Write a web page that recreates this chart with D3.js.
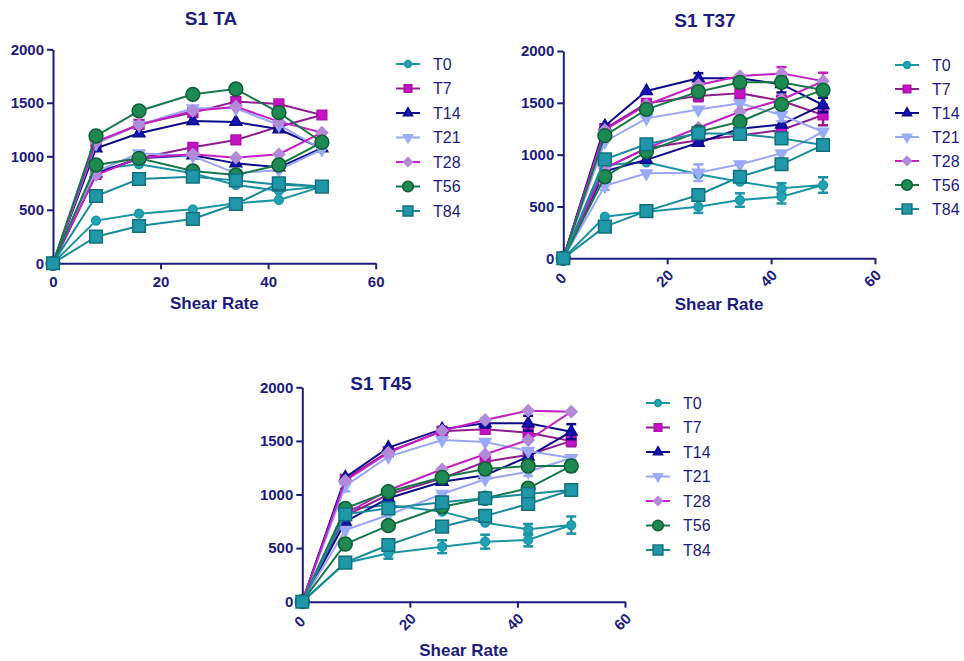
<!DOCTYPE html>
<html>
<head>
<meta charset="utf-8">
<script src="https://cdn.jsdelivr.net/npm/d3@7"></script>
<style>
  body { margin: 0; background: #fff; }
  svg { font-family: "Liberation Sans", Arial, sans-serif; }
</style>
</head>
<body>
<script>
// shear rates measured going up; the return curve uses the same points reversed
const shear = [0, 8, 16, 26, 34, 42, 50];
const seriesNames = ["T0", "T7", "T14", "T21", "T28", "T56", "T84"];
const xTicks = [0, 20, 40, 60];
const yTicks = [0, 500, 1000, 1500, 2000];

// S1 TA
const taUp = [
  [0, 880, 925, 841, 732, 679, 717],
  [0, 1121, 1299, 1408, 1511, 1489, 1386],
  [0, 1075, 1215, 1330, 1321, 1252, 1075],
  [0, 1121, 1293, 1448, 1448, 1293, 1065],
  [0, 1137, 1293, 1424, 1464, 1324, 1221],
  [0, 1190, 1424, 1579, 1629, 1408, 1131],
  [0, 629, 788, 810, 775, 735, 717]
];
const taDown = [
  [0, 399, 464, 505, 561, 592, 717],
  [0, 832, 981, 1084, 1153, 1277, 1386],
  [0, 841, 981, 1010, 934, 897, 1075],
  [0, 857, 1028, 1003, 841, 872, 1065],
  [0, 825, 987, 1019, 987, 1019, 1221],
  [0, 919, 981, 863, 825, 919, 1131],
  [0, 249, 349, 414, 554, 748, 717]
];

// S1 T37
const t37Up = [
  [0, 900, 926, 810, 739, 675, 707],
  [0, 1250, 1495, 1565, 1592, 1520, 1383],
  [0, 1276, 1614, 1736, 1736, 1680, 1479],
  [0, 1125, 1350, 1435, 1495, 1383, 1221],
  [0, 1238, 1479, 1672, 1758, 1784, 1710],
  [0, 1183, 1437, 1607, 1698, 1698, 1623],
  [0, 955, 1100, 1206, 1199, 1157, 1093]
];
const t37Down = [
  [0, 401, 450, 498, 562, 594, 707],
  [0, 870, 1061, 1140, 1185, 1238, 1383],
  [0, 840, 950, 1115, 1250, 1290, 1479],
  [0, 700, 820, 826, 907, 1013, 1221],
  [0, 870, 1061, 1260, 1414, 1530, 1710],
  [0, 787, 1030, 1220, 1318, 1485, 1623],
  [0, 305, 455, 611, 787, 907, 1093]
];
const t37ErrUp = [
  [0, 0, 0, 0, 0, 50, 75],
  [0, 0, 0, 50, 50, 50, 100],
  [0, 0, 0, 50, 0, 80, 70],
  [0, 0, 0, 0, 0, 60, 0],
  [0, 0, 0, 0, 0, 60, 80],
  [0, 0, 0, 0, 0, 0, 0],
  [0, 0, 0, 0, 0, 0, 0]
];
const t37ErrDown = [
  [0, 0, 0, 60, 65, 65, 0],
  [0, 0, 0, 40, 0, 0, 0],
  [0, 0, 0, 0, 0, 0, 0],
  [0, 40, 0, 80, 0, 0, 0],
  [0, 0, 0, 0, 0, 0, 0],
  [0, 0, 0, 0, 0, 0, 0],
  [0, 0, 0, 0, 0, 0, 0]
];

// S1 T45
const t45Up = [
  [0, 860, 902, 840, 737, 675, 715],
  [0, 1142, 1400, 1590, 1608, 1577, 1500],
  [0, 1160, 1437, 1610, 1664, 1664, 1586],
  [0, 1080, 1353, 1508, 1490, 1406, 1340],
  [0, 1129, 1390, 1595, 1695, 1782, 1772],
  [0, 871, 1026, 1160, 1238, 1266, 1266],
  [0, 815, 871, 927, 965, 1005, 1042]
];
const t45Down = [
  [0, 361, 451, 513, 560, 576, 715],
  [0, 800, 1000, 1150, 1306, 1369, 1500],
  [0, 746, 965, 1119, 1180, 1353, 1586],
  [0, 669, 809, 1005, 1142, 1213, 1340],
  [0, 820, 1040, 1235, 1375, 1508, 1772],
  [0, 538, 709, 886, 965, 1058, 1266],
  [0, 364, 529, 700, 800, 911, 1042]
];
const t45ErrUp = [
  [0, 0, 0, 0, 0, 50, 80],
  [0, 0, 0, 40, 40, 0, 50],
  [0, 0, 0, 0, 40, 70, 70],
  [0, 50, 0, 0, 0, 0, 0],
  [0, 0, 0, 0, 0, 0, 0],
  [0, 0, 0, 0, 0, 0, 50],
  [0, 0, 0, 0, 0, 40, 0]
];
const t45ErrDown = [
  [0, 0, 50, 60, 65, 60, 0],
  [0, 0, 0, 0, 0, 0, 0],
  [0, 0, 0, 0, 0, 0, 0],
  [0, 0, 0, 0, 0, 40, 0],
  [0, 0, 0, 0, 0, 0, 0],
  [0, 0, 0, 0, 0, 0, 0],
  [0, 0, 0, 0, 0, 0, 0]
];

const navy = "#1c1c7c";
// line colour, marker fill, marker outline, symbol, size, rotation
const styles = [
  {line: "#1b95a5", fill: "#21a3b3", stroke: "#1b95a5", sym: d3.symbolCircle, size: 60, rot: 0},
  {line: "#8e1d8e", fill: "#c612c6", stroke: "#b010b0", sym: d3.symbolSquare, size: 95, rot: 0},
  {line: "#0b0b8a", fill: "#1414b4", stroke: "#0b0b8a", sym: d3.symbolTriangle, size: 60, rot: 0},
  {line: "#9ba6f4", fill: "#9aabfa", stroke: "#9aabfa", sym: d3.symbolTriangle, size: 60, rot: 180},
  {line: "#c41fc4", fill: "#b38ad8", stroke: "#b38ad8", sym: d3.symbolSquare, size: 68, rot: 45},
  {line: "#18774a", fill: "#1e8a52", stroke: "#0e5e36", sym: d3.symbolCircle, size: 150, rot: 0},
  {line: "#188b9b", fill: "#1f97a8", stroke: "#12707e", sym: d3.symbolSquare, size: 160, rot: 0}
];

const svg = d3.select("body").append("svg")
  .attr("width", 964)
  .attr("height", 661);

function drawPanel(p) {
  const x = d3.scaleLinear().domain([0, 60]).range([p.x0, p.x1]);
  const y = d3.scaleLinear().domain([0, 2000]).range([p.y0, p.y1]);
  const g = svg.append("g");

  // title
  g.append("text")
    .attr("x", p.titleX).attr("y", p.titleY)
    .attr("text-anchor", "middle")
    .attr("font-size", 19).attr("font-weight", "bold")
    .attr("fill", navy)
    .text(p.title);

  // axes
  const yAxis = g.append("g")
    .attr("transform", "translate(" + p.x0 + ",0)")
    .call(d3.axisLeft(y).tickValues(yTicks).tickFormat(d3.format("d"))
      .tickSize(6).tickPadding(3).tickSizeOuter(0));
  const xAxis = g.append("g")
    .attr("transform", "translate(0," + p.y0 + ")")
    .call(d3.axisBottom(x).tickValues(xTicks).tickFormat(d3.format("d"))
      .tickSize(6).tickSizeOuter(0));
  [xAxis, yAxis].forEach(a => {
    a.select(".domain").attr("stroke", navy).attr("stroke-width", 2);
    a.selectAll(".tick line").attr("stroke", navy).attr("stroke-width", 2);
    a.selectAll(".tick text").attr("fill", navy)
      .attr("font-size", 15).attr("font-weight", "bold")
      .attr("font-family", "Liberation Sans, Arial, sans-serif");
  });
  if (p.rotate) {
    xAxis.selectAll(".tick text")
      .attr("text-anchor", "middle")
      .attr("y", 0).attr("dy", "0.35em")
      .attr("transform", "translate(-3,20) rotate(-45)");
  } else {
    xAxis.selectAll(".tick text").attr("dy", "0.95em");
  }

  g.append("text")
    .attr("x", (p.x0 + p.x1) / 2).attr("y", p.labelY)
    .attr("text-anchor", "middle")
    .attr("font-size", 17).attr("font-weight", "bold")
    .attr("fill", navy)
    .text("Shear Rate");

  const line = d3.line().x(d => x(d.s)).y(d => y(d.v));

  seriesNames.forEach((name, i) => {
    const st = styles[i];
    const upPts = shear.map((s, j) => ({s: s, v: p.up[i][j], e: p.errUp ? p.errUp[i][j] : 0}));
    const downPts = shear.map((s, j) => ({s: s, v: p.down[i][j], e: p.errDown ? p.errDown[i][j] : 0}));
    const loop = upPts.concat(downPts.slice().reverse());
    const sg = g.append("g");

    sg.append("path")
      .datum(loop)
      .attr("fill", "none")
      .attr("stroke", st.line)
      .attr("stroke-width", 2)
      .attr("d", line);

    const pts = upPts.concat(downPts.slice(1, 6));
    const eb = pts.filter(d => d.e > 0);
    eb.forEach(d => {
      const cx = x(d.s);
      sg.append("line")
        .attr("x1", cx).attr("x2", cx)
        .attr("y1", y(d.v - d.e)).attr("y2", y(d.v + d.e))
        .attr("stroke", st.line).attr("stroke-width", 2.5);
      [d.v - d.e, d.v + d.e].forEach(v => {
        sg.append("line")
          .attr("x1", cx - 5).attr("x2", cx + 5)
          .attr("y1", y(v)).attr("y2", y(v))
          .attr("stroke", st.line).attr("stroke-width", 2.5);
      });
    });

    sg.selectAll("path.mk")
      .data(pts)
      .enter().append("path")
      .attr("class", "mk")
      .attr("d", d3.symbol().type(st.sym).size(st.size))
      .attr("transform", d => "translate(" + x(d.s) + "," + y(d.v) + ") rotate(" + st.rot + ")")
      .attr("fill", st.fill)
      .attr("stroke", st.stroke)
      .attr("stroke-width", 1.5);
  });

  // legend
  const lg = g.append("g");
  seriesNames.forEach((name, i) => {
    const st = styles[i];
    const ly = p.legY + i * p.legStep;
    lg.append("line")
      .attr("x1", p.legX - 12).attr("x2", p.legX + 12)
      .attr("y1", ly).attr("y2", ly)
      .attr("stroke", st.line).attr("stroke-width", 2);
    lg.append("path")
      .attr("d", d3.symbol().type(st.sym).size(st.size * 0.6))
      .attr("transform", "translate(" + p.legX + "," + ly + ") rotate(" + st.rot + ")")
      .attr("fill", st.fill)
      .attr("stroke", st.stroke)
      .attr("stroke-width", 1.5);
    lg.append("text")
      .attr("x", p.legX + 25).attr("y", ly)
      .attr("dy", "0.36em")
      .attr("font-size", 16)
      .attr("fill", navy)
      .text(name);
  });
}

drawPanel({title: "S1 TA", titleX: 211, titleY: 25,
  x0: 53, x1: 375.7, y0: 263.3, y1: 49.3, labelY: 309, rotate: false,
  up: taUp, down: taDown,
  legX: 408, legY: 64, legStep: 24.5});

drawPanel({title: "S1 T37", titleX: 705, titleY: 27,
  x0: 563.3, x1: 875, y0: 258.3, y1: 51, labelY: 310, rotate: true,
  up: t37Up, down: t37Down, errUp: t37ErrUp, errDown: t37ErrDown,
  legX: 907, legY: 65, legStep: 24});

drawPanel({title: "S1 T45", titleX: 381, titleY: 390,
  x0: 302.3, x1: 625, y0: 601.7, y1: 387.3, labelY: 656, rotate: true,
  up: t45Up, down: t45Down, errUp: t45ErrUp, errDown: t45ErrDown,
  legX: 658, legY: 403, legStep: 24.5});
</script>
</body>
</html>
